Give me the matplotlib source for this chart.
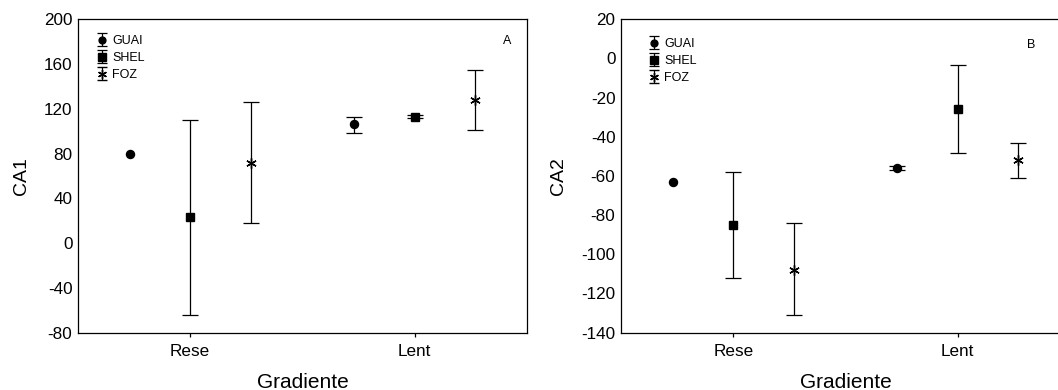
import numpy as np
import matplotlib
matplotlib.use("Agg")
import matplotlib.pyplot as plt

plt.rcParams['font.family'] = ['Liberation Sans', 'DejaVu Sans']

categories = ["Rese", "Lent"]
series = ["GUAI", "SHEL", "FOZ"]

# Panel A (CA1): means, lower and upper error-bar ends
ca1_mean = {"GUAI": [80, 106], "SHEL": [23, 113], "FOZ": [72, 128]}
ca1_low = {"GUAI": [np.nan, 98], "SHEL": [-64, 111.5], "FOZ": [18, 101]}
ca1_high = {"GUAI": [np.nan, 113], "SHEL": [110, 114.5], "FOZ": [126, 155]}

# Panel B (CA2)
ca2_mean = {"GUAI": [-63, -56], "SHEL": [-85, -26], "FOZ": [-108, -52]}
ca2_low = {"GUAI": [np.nan, -57], "SHEL": [-112, -48.5], "FOZ": [-131, -61]}
ca2_high = {"GUAI": [np.nan, -55], "SHEL": [-58, -3.5], "FOZ": [-84, -43]}

ca1_ticks = [-80, -40, 0, 40, 80, 120, 160, 200]
ca2_ticks = [-140, -120, -100, -80, -60, -40, -20, 0, 20]

offsets = {"GUAI": -0.27, "SHEL": 0.0, "FOZ": 0.27}
markers = {"GUAI": dict(marker="o", ms=5.8),
           "SHEL": dict(marker="s", ms=6.0),
           "FOZ": dict(marker=(6, 2, 0), ms=7.5, mew=1.0)}

fig = plt.figure(figsize=(10.58, 3.9), dpi=100)
axA = fig.add_axes([0.0737, 0.147, 0.4244, 0.8036])
axB = fig.add_axes([0.587, 0.147, 0.4244, 0.8036])


def draw(ax, mean, low, high, ticks, ylabel, letter, letter_pos, leg_anchor):
    x = np.arange(len(categories))
    for s in series:
        m = np.array(mean[s], dtype=float)
        lo = np.array(low[s], dtype=float)
        hi = np.array(high[s], dtype=float)
        yerr = np.vstack([m - lo, hi - m])
        ax.errorbar(x + offsets[s], m, yerr=yerr, fmt="none", ecolor="black",
                    elinewidth=0.9, capsize=5.5, capthick=0.9)
        ax.plot(x + offsets[s], m, linestyle="none", color="black",
                mfc="black", mec="black", **markers[s])
    handles = []
    for s in series:
        h = ax.errorbar([np.nan], [np.nan], yerr=[[1], [1]], color="black",
                        ecolor="black", linestyle="none", elinewidth=0.9,
                        capsize=3.5, capthick=0.9,
                        **{k: (v * 0.85 if k == "ms" else v) for k, v in markers[s].items()})
        handles.append(h)
    ax.legend(handles, series, loc="upper left", bbox_to_anchor=leg_anchor,
              frameon=False, fontsize=9, handlelength=0.7, handletextpad=0.45,
              labelspacing=0.4, borderaxespad=0.0, borderpad=0.0)
    ax.set_xlim(-0.5, 1.5)
    ax.set_ylim(ticks[0], ticks[-1])
    ax.set_xticks(x)
    ax.set_xticklabels(categories, fontsize=12.3)
    ax.set_yticks(ticks)
    ax.set_yticklabels([str(t) for t in ticks], fontsize=12.3)
    ax.tick_params(axis="x", direction="out", length=3, width=0.9, pad=5)
    ax.tick_params(axis="y", length=0, pad=4)
    ax.set_xlabel("Gradiente", fontsize=15, labelpad=10)
    ax.set_ylabel(ylabel, fontsize=14, labelpad=10)
    ax.text(letter_pos[0], letter_pos[1], letter, transform=ax.transAxes,
            fontsize=9, ha="center", va="center")
    for sp in ax.spines.values():
        sp.set_linewidth(0.9)


draw(axA, ca1_mean, ca1_low, ca1_high, ca1_ticks, "CA1", "A",
     (0.955, 0.932), (0.044, 0.95))
draw(axB, ca2_mean, ca2_low, ca2_high, ca2_ticks, "CA2", "B",
     (0.913, 0.918), (0.064, 0.94))

fig.savefig("out.png", dpi=100)
